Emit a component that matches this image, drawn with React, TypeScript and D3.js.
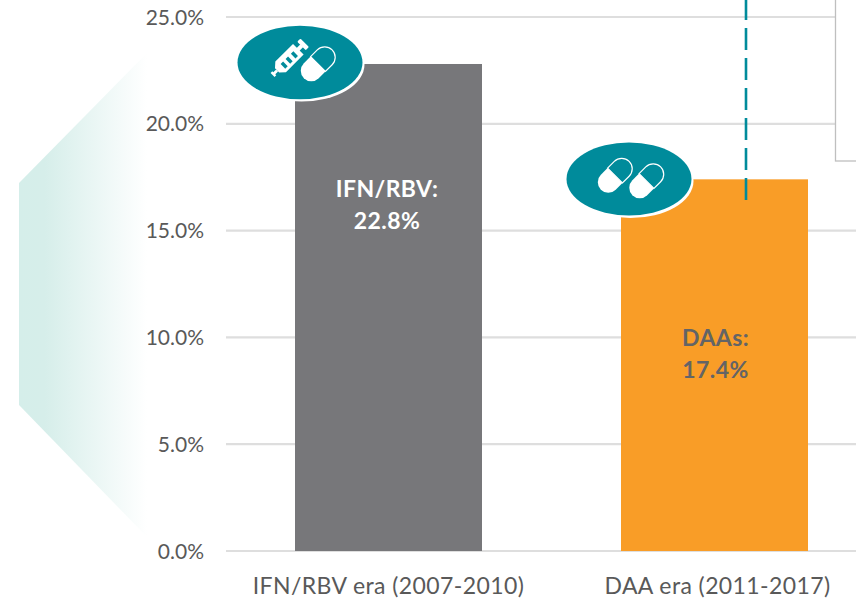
import React from "react";
import * as d3 from "d3";

const categories = ["IFN/RBV era (2007-2010)", "DAA era (2011-2017)"];
const values = [22.8, 17.4];
const barColors = ["#77777a", "#f99d27"];
const barLabels = [["IFN/RBV:", "22.8%"], ["DAAs:", "17.4%"]];
const labelColors = ["#ffffff", "#636466"];
const ticks = [0, 5, 10, 15, 20, 25];

const W = 856, H = 601;
const FONT = "Lato, 'Open Sans', sans-serif";
const TEAL = "#008b9b";

const y = d3.scaleLinear().domain([0, 25]).range([551, 17]);
const x = d3.scaleBand().domain(categories).range([295, 808]).paddingInner(0.4264).paddingOuter(0);

const labelShift = [-1.5, 1];
const categoryShift = [0, 3];

function Pill({ cx, cy }: { cx: number; cy: number }) {
  const r = 10.5, hl = 9.5;
  return (
    <g transform={`translate(${cx},${cy}) rotate(45)`}>
      <path d={`M${-r},0 V${-hl} A${r},${r} 0 0 1 ${r},${-hl} V0 Z`} fill="none" stroke="#fff" strokeWidth={1.2} />
      <path d={`M${-r},0 H${r} V${hl} A${r},${r} 0 0 1 ${-r},${hl} Z`} fill="#fff" />
    </g>
  );
}

function Syringe({ cx, cy }: { cx: number; cy: number }) {
  return (
    <g transform={`translate(${cx},${cy}) rotate(45)`} fill="#fff">
      <rect x={-6} y={-25} width={12} height={4.5} rx={1} />
      <rect x={-2} y={-21} width={4} height={6} />
      <path fillRule="evenodd" d="M-7.5,-16 H7.5 V9 L3,14 H-3 L-7.5,9 Z M-2,-11 V-7.5 H4.5 V-11 Z M-2,-3.5 V0 H4.5 V-3.5 Z M-2,3.5 V7 H4.5 V3.5 Z" />
      <rect x={-1.4} y={14} width={2.8} height={5} />
      <rect x={-2.8} y={18} width={5.6} height={2.4} />
    </g>
  );
}

export default function App() {
  const band = x.bandwidth();
  return (
    <svg width={W} height={H} viewBox={`0 0 ${W} ${H}`} style={{ position: "absolute", left: 0, top: 0, background: "#fff" }} fontFamily={FONT}>
      <defs>
        <linearGradient id="fade" x1="0" x2="1" y1="0" y2="0">
          <stop offset="0" stopColor="#d5eeea" />
          <stop offset="0.2" stopColor="#d6eeea" />
          <stop offset="1" stopColor="#ffffff" />
        </linearGradient>
      </defs>
      <polygon points="19,183 147,53 147,537 19,405" fill="url(#fade)" />
      {ticks.map((t) => (
        <g key={t}>
          <line x1={226} x2={W} y1={y(t)} y2={y(t)} stroke="#dedede" strokeWidth={2.2} />
          <text x={204} y={y(t) + 7.5} textAnchor="end" fontSize={21} fill="#595959">{t.toFixed(1)}%</text>
        </g>
      ))}
      <rect x={835.5} y={-2} width={30} height={163} fill="#fff" stroke="#bfbfbf" strokeWidth={1.3} />
      {categories.map((c, i) => {
        const bx = x(c)!;
        const mid = bx + band / 2;
        return (
          <g key={c}>
            <rect x={bx} y={y(values[i])} width={band} height={y(0) - y(values[i])} fill={barColors[i]} />
            <text x={mid + labelShift[i]} y={i === 0 ? 197 : 346} textAnchor="middle" fontSize={23} letterSpacing={0.4} fontWeight={700} fill={labelColors[i]}>{barLabels[i][0]}</text>
            <text x={mid + labelShift[i]} y={i === 0 ? 229 : 378} textAnchor="middle" fontSize={23} letterSpacing={0.4} fontWeight={700} fill={labelColors[i]}>{barLabels[i][1]}</text>
            <text x={mid + categoryShift[i]} y={594} textAnchor="middle" fontSize={23} letterSpacing={0.4} fill="#595959">{c}</text>
          </g>
        );
      })}
      <line x1={746} x2={746} y1={200} y2={-2} stroke={TEAL} strokeWidth={2.6} strokeDasharray="22 8" />
      <ellipse cx={301.5} cy={64.5} rx={63} ry={37} fill="#fff" />
      <ellipse cx={300} cy={62.5} rx={62.5} ry={36.7} fill={TEAL} />
      <Syringe cx={287} cy={60.5} />
      <Pill cx={318} cy={64} />
      <ellipse cx={630.5} cy={181} rx={63} ry={37} fill="#fff" />
      <ellipse cx={629} cy={179} rx={62.5} ry={36.5} fill={TEAL} />
      <Pill cx={615} cy={175.5} />
      <Pill cx={646.5} cy={181} />
    </svg>
  );
}
